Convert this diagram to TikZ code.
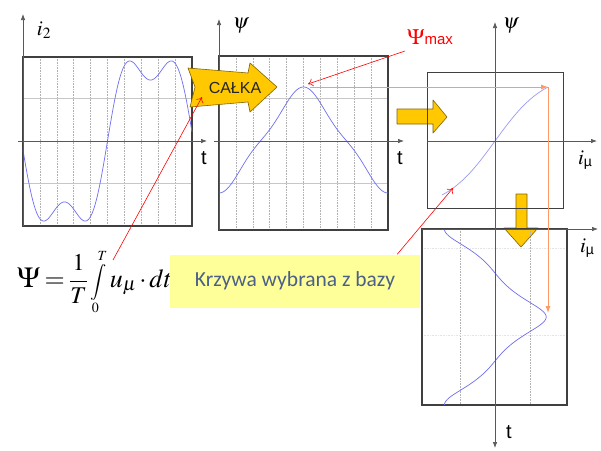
\documentclass[tikz,border=0pt]{standalone}
\usepackage{mathptmx}
\usepackage{fontspec}
\setmainfont{Liberation Serif}
\setsansfont{Liberation Sans}
\newfontfamily\notefont{Carlito}
\usetikzlibrary{arrows.meta,positioning}
\definecolor{Trace}{HTML}{6F6FF0}
\definecolor{Gold}{HTML}{FFC800}
\definecolor{Guide}{HTML}{FF9966}
\definecolor{Note}{HTML}{FFFF99}
\definecolor{NoteText}{HTML}{4A6088}
\newcommand{\imulabel}{$i$\raisebox{-2.5pt}{\sffamily\fontsize{14}{14}\selectfont µ}}
\newcommand{\atsize}[2]{\mbox{\fontsize{#1}{#1}\selectfont$\displaystyle#2$}}

\begin{document}
\begin{tikzpicture}[x=1pt,y=-1pt,
  frame/.style={draw=black!75,line width=1.3pt},
  axis/.style={draw=black!65,line width=0.7pt,-{Latex[length=6pt,width=4.5pt]}},
  gridline/.style={draw=black!22,line width=0.9pt},
  dotline/.style={draw=black!30,densely dotted,line width=0.6pt},
  trace/.style={draw=Trace,line width=0.7pt},
  callout/.style={draw=red,line width=0.6pt,-{To[length=5pt,width=8pt]}},
  guide/.style={draw=Guide,line width=0.9pt,-{Latex[length=7pt,width=5pt]}},
  goldarrow/.style={fill=Gold,draw=Gold!50!black,line width=0.6pt,line join=round},
  lbl/.style={inner sep=0pt,font=\fontsize{21}{21}\selectfont},
  tlbl/.style={inner sep=0pt,font=\sffamily\fontsize{20}{20}\selectfont},
  declare function={
    ripple(\x)=141-87*(cos(2.093*(\x-150.5))-0.3*cos(6.279*(\x-150.5)));
    flux(\x)=140+47.7*(cos(2.1302*(\x-219))+cos(6.3905*(\x-219))/9);
    pn(\s)=-0.9*(cos(360*\s)+cos(1080*\s)/9);
    imu(\s)=25*ln((1+0.7715*pn(\s))/(1-0.7715*pn(\s)));
  }]
  \useasboundingbox[fill=white] (0,0) rectangle (601,450);

  % yellow arrows behind the frames
  \draw[goldarrow] (397,109) -- (433,109) -- (433,100) -- (447,117) -- (433,133) -- (433,124) -- (397,124) -- cycle;
  \draw[goldarrow] (516,194) -- (527,194) -- (527,228) -- (538,228) -- (521,247) -- (504,228) -- (516,228) -- cycle;

  % panel 1: current i2
  \foreach \k in {1,...,9}
    \draw[dotline] ({23+16.9*\k},57) -- ({23+16.9*\k},226);
  \foreach \y in {98,183}
    \draw[gridline] (23,\y) -- (192,\y);
  \draw[frame] (23,57) rectangle (192,226);
  \draw[trace] plot[domain=23:192,samples=160] (\x,{ripple(\x)});
  \draw[axis] (23,226) -- (23,14);
  \draw[axis] (18,141) -- (207,141);
  \node[lbl] (i2lbl) at (44,30) {$i_2$};
  \node[tlbl] (t1lbl) at (204,158) {t};

  % panel 2: flux
  \foreach \k in {1,...,9}
    \draw[dotline] ({219+16.9*\k},56) -- ({219+16.9*\k},230);
  \foreach \y in {98,183}
    \draw[gridline] (219,\y) -- (388,\y);
  \draw[frame] (219,56) rectangle (388,230);
  \draw[trace] plot[domain=219:388,samples=140] (\x,{flux(\x)});
  \draw[axis] (219,230) -- (219,19);
  \draw[axis] (214,141) -- (404,141);
  \node[lbl] (psi2lbl) at (241,26) {$\psi$};
  \node[tlbl] (t2lbl) at (400,158) {t};

  % panel 3: magnetising curve
  \draw[draw=black!75,line width=1pt] (427,72) rectangle (563,208);
  \draw[trace,draw=Trace!70] plot[domain=-53:53,samples=80] ({495+\x},{141-68.7*tanh(0.02*\x)});
  \draw[axis] (427,141) -- (597,141);
  \node[lbl] (psi3lbl) at (511,26) {$\psi$};
  \node[lbl] (imu3lbl) at (585,160) {\imulabel};

  % panel 4: magnetising current
  \foreach \x in {460,530}
    \draw[dotline] (\x,229) -- (\x,405);
  \foreach \y in {248,335}
    \draw[dotline,draw=black!10] (422,\y) -- (567,\y);
  \draw[frame,line width=1.5pt] (422,229) rectangle (567,405);
  \draw[trace] plot[variable=\s,domain=0:1,samples=160] ({495+imu(\s)},{229+176*\s});
  \draw[axis] (422,229) -- (598,229);
  \draw[axis,{Latex[length=6pt,width=4.5pt]}-{Latex[length=6pt,width=4.5pt]}] (495,448) -- (495,22);
  \node[lbl] (imu4lbl) at (587,248) {\imulabel};
  \node[tlbl] (t4lbl) at (509,432) {t};

  % integration arrow
  \draw[goldarrow] (188,68) -- (248,73) -- (250,63) -- (277,87) -- (250,112) -- (248,102) -- (190,107) -- (195,87) -- cycle;
  \node[inner sep=0pt,font=\sffamily\fontsize{16}{16}\selectfont,text=black!85] (calka) at (235,88) {CAŁKA};

  % guide lines
  \coordinate (peak) at (306,87);
  \coordinate (corner) at (548,87);
  \coordinate (ipeak) at (548,313);
  \draw[guide] ([xshift=4pt]peak) -- (corner);
  \draw[guide] (corner) -- (ipeak);

  % texts and callouts
  \node[inner sep=0pt,anchor=base west,font=\fontsize{26}{30}\selectfont] (formula) at (17,287)
    {\thickmuskip=3mu\medmuskip=2mu$\atsize{29}{\Psi}=\atsize{24}{\frac{1}{T}}%
     \,\atsize{18}{\int\limits_{\atsize{14}{0}}^{\atsize{14}{T}}}\,u_\mu\cdot dt$};
  \node[fill=Note,minimum width=250pt,minimum height=53pt,text=NoteText,
    font=\notefont\fontsize{21.5}{21.5}\selectfont] (note) at (295,281) {Krzywa wybrana z bazy};
  \node[red,inner sep=0pt] (psimax) at (430,37)
    {\fontsize{22}{22}\selectfont$\Psi$\fontsize{15}{15}\sffamily max};
  \coordinate (formulaTip) at (113,260);
  \coordinate (calkaIn) at (202,97);
  \coordinate (curveEnd) at (453,188);
  \draw[callout] (formulaTip) -- (calkaIn);
  \draw[callout] ([xshift=-23pt]note.north east) -- (curveEnd);
  \draw[callout] (405,51) -- ([shift={(2,-3)}]peak);
\end{tikzpicture}
\end{document}
